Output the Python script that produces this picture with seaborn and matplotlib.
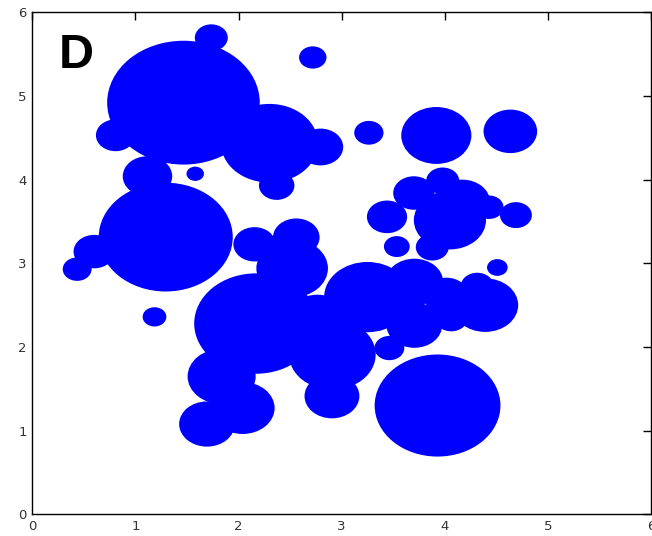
import matplotlib
matplotlib.use("Agg")
from matplotlib import pyplot as plt
from matplotlib.patches import Circle
from matplotlib.collections import PatchCollection
import seaborn as sns

# centres et rayons des cercles (unités des données)
cx = [1.466, 1.736, 2.72, 0.807, 2.30, 2.795, 2.37, 1.58, 1.117, 1.294,
      0.60, 0.435, 1.185, 2.155, 2.56, 2.52, 2.17, 1.836, 2.04, 1.694,
      2.906, 2.91, 3.25, 3.463, 3.705, 3.705, 4.015, 4.392, 4.315, 4.51,
      4.063, 3.535, 3.44, 3.879, 4.05, 4.17, 3.98, 3.70, 4.43, 4.69,
      3.918, 4.636, 3.264, 3.93, 2.765]
cy = [4.92, 5.696, 5.46, 4.53, 4.435, 4.39, 3.93, 4.07, 4.04, 3.313,
      3.14, 2.93, 2.36, 3.227, 3.31, 2.94, 2.28, 1.648, 1.27, 1.079,
      1.413, 1.91, 2.596, 1.987, 2.26, 2.775, 2.608, 2.50, 2.727, 2.95,
      2.347, 3.20, 3.555, 3.193, 3.516, 3.73, 3.985, 3.84, 3.67, 3.576,
      4.528, 4.577, 4.56, 1.30, 2.345]
radius = [0.74, 0.16, 0.133, 0.19, 0.47, 0.22, 0.172, 0.085, 0.24, 0.65,
          0.20, 0.14, 0.115, 0.205, 0.226, 0.347, 0.60, 0.33, 0.31, 0.27,
          0.266, 0.42, 0.42, 0.145, 0.27, 0.28, 0.22, 0.32, 0.16, 0.10,
          0.16, 0.125, 0.195, 0.16, 0.35, 0.27, 0.16, 0.20, 0.14, 0.155,
          0.34, 0.26, 0.142, 0.61, 0.28]

ticks = [0, 1, 2, 3, 4, 5, 6]
panel_label = "D"

sns.set_theme(style="white")

W, H = 652, 536
fig = plt.figure(figsize=(W / 100, H / 100), dpi=100)
ax = fig.add_axes([32.3 / W, (H - 514.3) / H, (651 - 32.3) / W, (514.3 - 12.3) / H])

circles = [Circle((x, y), r) for x, y, r in zip(cx, cy, radius)]
ax.add_collection(PatchCollection(circles, facecolor="#0000ff", edgecolor="none"))

ax.set_xlim(0, 6)
ax.set_ylim(0, 6)
ax.set_xticks(ticks)
ax.set_yticks(ticks)
ax.tick_params(direction="in", length=6, width=1, color="black",
               top=True, right=True, labelsize=9.5, labelcolor="#333333", pad=4)

for side in ["left", "bottom", "top", "right"]:
    ax.spines[side].set_visible(True)
    ax.spines[side].set_color("black")
    ax.spines[side].set_linewidth(1)

ax.text(0.26, 5.33, panel_label, fontsize=35, fontweight="bold",
        family=["Liberation Sans", "DejaVu Sans"], color="black",
        ha="left", va="baseline")

fig.savefig("out.png", dpi=100)
